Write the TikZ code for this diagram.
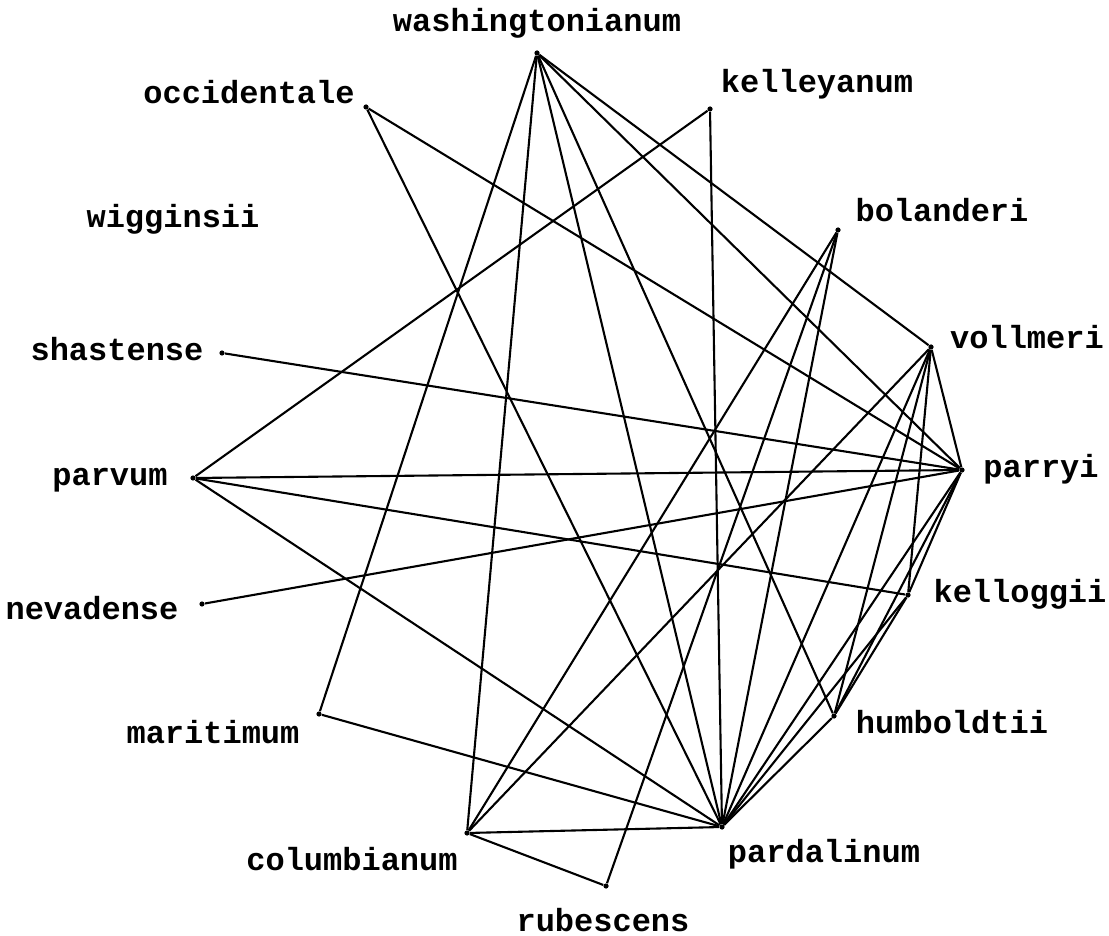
\documentclass[tikz,border=0pt]{standalone}
\usepackage{fontspec}
\setmonofont{Liberation Mono}
\usetikzlibrary{positioning}

\begin{document}
\begin{tikzpicture}[
    x=0.5pt, y=-0.5pt,
    dot/.style={circle, fill=black, inner sep=0pt, minimum size=2.6pt},
    lbl/.style={font=\fontsize{16}{18}\selectfont\ttfamily\bfseries, inner sep=0pt},
    cross/.style={line width=1.05pt}
]
\useasboundingbox (0,0) rectangle (1109,936);

% Species (points)
\node[dot] (wash) at (537,53) {};
\node[dot] (occi) at (366,107) {};
\node[dot] (kell) at (710,109) {};
\node[dot] (bola) at (838,230) {};
\node[dot] (shas) at (222,353) {};
\node[dot] (voll) at (931,347) {};
\node[dot] (parv) at (193,478) {};
\node[dot] (parr) at (962,470) {};
\node[dot] (neva) at (202,604) {};
\node[dot] (kelo) at (908,595) {};
\node[dot] (mari) at (319,714) {};
\node[dot] (humb) at (834,716) {};
\node[dot] (colu) at (467,833) {};
\node[dot] (pard) at (722,827) {};
\node[dot] (rube) at (606,886) {};

% Species (names)
\node[lbl] (washingtonianum) at (537,23) {washingtonianum};
\node[lbl] (occidentale) at (249,92) {occidentale};
\node[lbl] (kelleyanum) at (817,84) {kelleyanum};
\node[lbl] (wigginsii) at (173,219) {wigginsii};
\node[lbl] (bolanderi) at (942,210) {bolanderi};
\node[lbl] (shastense) at (117,349) {shastense};
\node[lbl] (vollmeri) at (1027,337) {vollmeri};
\node[lbl] (parvum) at (110,480) {parvum};
\node[lbl] (parryi) at (1041,469) {parryi};
\node[lbl] (nevadense) at (92,608) {nevadense};
\node[lbl] (kelloggii) at (1020,594) {kelloggii};
\node[lbl] (maritimum) at (213,732) {maritimum};
\node[lbl] (humboldtii) at (952,722) {humboldtii};
\node[lbl] (columbianum) at (352,859) {columbianum};
\node[lbl] (pardalinum) at (824,854) {pardalinum};
\node[lbl] (rubescens) at (603,920) {rubescens};

% Crosses
\draw[cross] (wash) -- (mari);
\draw[cross] (wash) -- (colu);
\draw[cross] (wash) -- (pard);
\draw[cross] (wash) -- (humb);
\draw[cross] (wash) -- (parr);
\draw[cross] (wash) -- (voll);
\draw[cross] (occi) -- (parr);
\draw[cross] (occi) -- (pard);
\draw[cross] (kell) -- (parv);
\draw[cross] (kell) -- (pard);
\draw[cross] (bola) -- (rube);
\draw[cross] (bola) -- (colu);
\draw[cross] (bola) -- (pard);
\draw[cross] (shas) -- (parr);
\draw[cross] (voll) -- (parr);
\draw[cross] (voll) -- (colu);
\draw[cross] (voll) -- (pard);
\draw[cross] (voll) -- (humb);
\draw[cross] (voll) -- (kelo);
\draw[cross] (parv) -- (parr);
\draw[cross] (parv) -- (kelo);
\draw[cross] (parv) -- (pard);
\draw[cross] (neva) -- (parr);
\draw[cross] (parr) -- (kelo);
\draw[cross] (parr) -- (humb);
\draw[cross] (parr) -- (pard);
\draw[cross] (kelo) -- (humb);
\draw[cross] (kelo) -- (pard);
\draw[cross] (humb) -- (pard);
\draw[cross] (mari) -- (pard);
\draw[cross] (colu) -- (pard);
\draw[cross] (colu) -- (rube);

\end{tikzpicture}
\end{document}
